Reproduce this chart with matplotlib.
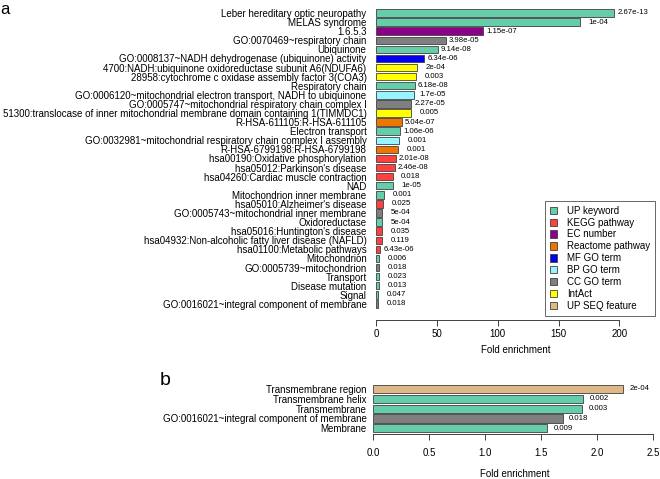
import numpy as np
import matplotlib
matplotlib.use("Agg")
import matplotlib.pyplot as plt
import matplotlib.patches as mpatches

plt.rcParams["font.family"] = ["Liberation Sans", "DejaVu Sans"]

W, H = 660, 479

# category -> colour, in legend order
CATEGORIES = ["UP keyword", "KEGG pathway", "EC number", "Reactome pathway",
              "MF GO term", "BP GO term", "CC GO term", "IntAct", "UP SEQ feature"]
CAT_COLORS = ["#66CDAA", "#FF4040", "#8B008B", "#EE7600",
              "#0000EE", "#98F5FF", "#7F7F7F", "#FFFF00", "#DEB887"]

# panel a
terms_a = [
    "Leber hereditary optic neuropathy",
    "MELAS syndrome",
    "1.6.5.3",
    "GO:0070469~respiratory chain",
    "Ubiquinone",
    "GO:0008137~NADH dehydrogenase (ubiquinone) activity",
    "4700:NADH:ubiquinone oxidoreductase subunit A6(NDUFA6)",
    "28958:cytochrome c oxidase assembly factor 3(COA3)",
    "Respiratory chain",
    "GO:0006120~mitochondrial electron transport, NADH to ubiquinone",
    "GO:0005747~mitochondrial respiratory chain complex I",
    "51300:translocase of inner mitochondrial membrane domain containing 1(TIMMDC1)",
    "R-HSA-611105:R-HSA-611105",
    "Electron transport",
    "GO:0032981~mitochondrial respiratory chain complex I assembly",
    "R-HSA-6799198:R-HSA-6799198",
    "hsa00190:Oxidative phosphorylation",
    "hsa05012:Parkinson's disease",
    "hsa04260:Cardiac muscle contraction",
    "NAD",
    "Mitochondrion inner membrane",
    "hsa05010:Alzheimer's disease",
    "GO:0005743~mitochondrial inner membrane",
    "Oxidoreductase",
    "hsa05016:Huntington's disease",
    "hsa04932:Non-alcoholic fatty liver disease (NAFLD)",
    "hsa01100:Metabolic pathways",
    "Mitochondrion",
    "GO:0005739~mitochondrion",
    "Transport",
    "Disease mutation",
    "Signal",
    "GO:0016021~integral component of membrane",
]
fold_a = [196, 168, 88, 57.6, 51, 39.5, 33.7, 33, 32, 31.3, 28.8, 28.3, 20.9,
          19.8, 18.7, 18.1, 16, 15.4, 13.5, 13.5, 6.6, 5.8, 5, 5, 5, 4.7, 3.3,
          2.5, 2.5, 2.1, 2.0, 1.8, 1.6]
pval_a = ["2.67e-13", "1e-04", "1.15e-07", "3.98e-05", "9.14e-08", "6.34e-06",
          "2e-04", "0.003", "6.18e-08", "1.7e-05", "2.27e-05", "0.005",
          "5.04e-07", "1.06e-06", "0.001", "0.001", "2.01e-08", "2.46e-08",
          "0.018", "1e-05", "0.001", "0.025", "5e-04", "5e-04", "0.035",
          "0.119", "6.43e-06", "0.006", "0.018", "0.023", "0.013", "0.047",
          "0.018"]
cat_a = ["UP keyword", "UP keyword", "EC number", "CC GO term", "UP keyword",
         "MF GO term", "IntAct", "IntAct", "UP keyword", "BP GO term",
         "CC GO term", "IntAct", "Reactome pathway", "UP keyword", "BP GO term",
         "Reactome pathway", "KEGG pathway", "KEGG pathway", "KEGG pathway",
         "UP keyword", "UP keyword", "KEGG pathway", "CC GO term", "UP keyword",
         "KEGG pathway", "KEGG pathway", "KEGG pathway", "UP keyword",
         "CC GO term", "UP keyword", "UP keyword", "UP keyword", "CC GO term"]

# panel b
terms_b = ["Transmembrane region", "Transmembrane helix", "Transmembrane",
           "GO:0016021~integral component of membrane", "Membrane"]
fold_b = [2.23, 1.875, 1.865, 1.69, 1.55]
pval_b = ["2e-04", "0.002", "0.003", "0.018", "0.009"]
cat_b = ["UP SEQ feature", "UP keyword", "UP keyword", "CC GO term", "UP keyword"]

EDGE = "#404040"
color_of = dict(zip(CATEGORIES, CAT_COLORS))


def px_rect(x0, y0, x1, y1):
    # pixel box (top-left origin) -> figure fraction rect
    return [x0 / W, 1 - y1 / H, (x1 - x0) / W, (y1 - y0) / H]


def draw_panel(ax, terms, fold, pval, cats, xmax, ticks, ticklabels,
               p_off, ylab_pad, xtick_pad, xlabel_y):
    y = np.arange(len(terms))
    ax.barh(y, fold, height=0.82, color=[color_of[c] for c in cats],
            edgecolor=EDGE, linewidth=0.6)
    for yi, v, p in zip(y, fold, pval):
        ax.text(v + p_off, yi, p, ha="center", va="center", fontsize=5.6,
                clip_on=False)
    ax.set_yticks(y)
    ax.set_yticklabels(terms, fontsize=7)
    ax.tick_params(axis="y", length=0, pad=ylab_pad)
    ax.set_xlim(0, xmax)
    ax.set_xticks(ticks)
    ax.set_xticklabels(ticklabels, fontsize=7)
    ax.tick_params(axis="x", direction="out", length=4, width=0.7,
                   color=EDGE, pad=xtick_pad)
    for s in ["top", "right", "left"]:
        ax.spines[s].set_visible(False)
    ax.spines["bottom"].set_bounds(ticks[0], ticks[-1])
    ax.spines["bottom"].set_linewidth(0.7)
    ax.spines["bottom"].set_color(EDGE)
    ax.set_xlabel("Fold enrichment", fontsize=7)
    ax.xaxis.set_label_coords(0.5, xlabel_y)
    ax.xaxis.label.set_va("center")


fig = plt.figure(figsize=(W / 100, H / 100), dpi=100)

# panel a: bar rows at 13 + 9.09*i px, axis line at 319.5 px
ax_a = fig.add_axes(px_rect(376.3, 5, 656, 319.5))
draw_panel(ax_a, terms_a, fold_a, pval_a, cat_a, 230.2,
           [0, 50, 100, 150, 200], ["0", "50", "100", "150", "200"],
           p_off=15, ylab_pad=7, xtick_pad=2.5, xlabel_y=-30.5 / 314.5)
ax_a.set_ylim(33.72, -0.88)

handles = [mpatches.Patch(facecolor=c, edgecolor=EDGE, linewidth=0.6, label=n)
           for n, c in zip(CATEGORIES, CAT_COLORS)]
leg = ax_a.legend(handles=handles, loc="upper left",
                  bbox_to_anchor=(545 / W, 1 - 200.7 / H),
                  bbox_transform=fig.transFigure, fontsize=7, frameon=True,
                  fancybox=False, edgecolor=EDGE, handlelength=0.75,
                  handleheight=0.75, handletextpad=1.0, labelspacing=0.2,
                  borderpad=0.5, borderaxespad=0)
leg.get_frame().set_linewidth(0.7)

# panel b: rows at 389 + 9.83*i px, axis line at 434 px
ax_b = fig.add_axes(px_rect(373.3, 382, 656, 434))
draw_panel(ax_b, terms_b, fold_b, pval_b, cat_b, 2.524,
           [0, 0.5, 1.0, 1.5, 2.0, 2.5], ["0.0", "0.5", "1.0", "1.5", "2.0", "2.5"],
           p_off=0.145, ylab_pad=4.8, xtick_pad=6, xlabel_y=-40 / 52)
ax_b.set_ylim(4.578, -0.712)

fig.text(0 / W, 1 - 1.5 / H, "a", fontsize=12, va="top", ha="left")
fig.text(160 / W, 1 - 372 / H, "b", fontsize=14, va="top", ha="left")

fig.savefig("out.png", dpi=100)
